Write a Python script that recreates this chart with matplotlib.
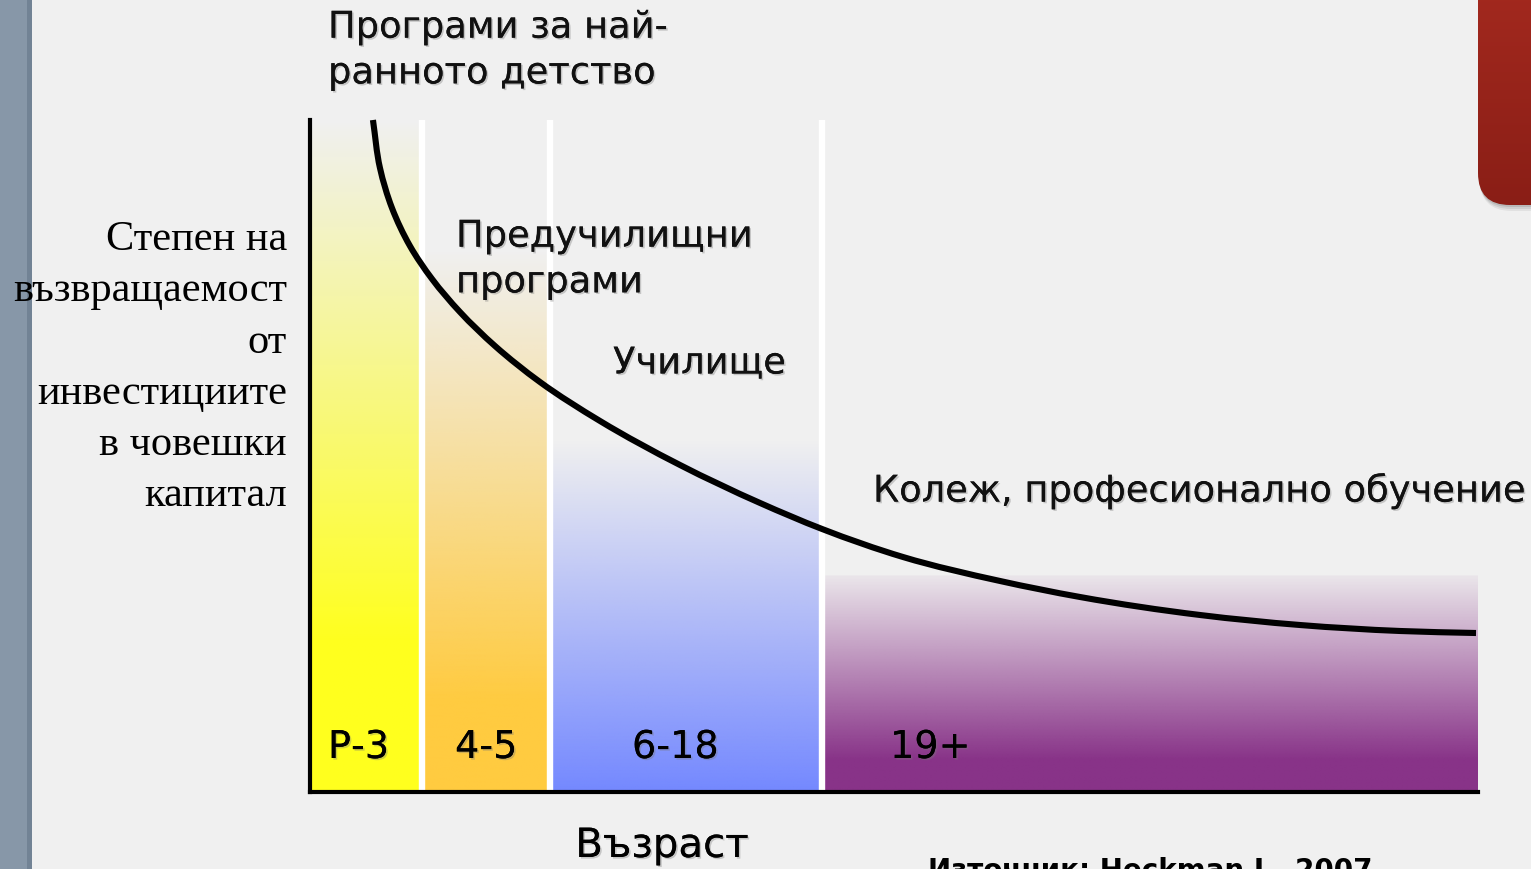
import numpy as np
import matplotlib
matplotlib.use("Agg")
import matplotlib.pyplot as plt
from matplotlib.path import Path
from matplotlib.patches import PathPatch, FancyBboxPatch, Rectangle
import matplotlib.patheffects as pe
from matplotlib.colors import to_rgb

# ---------------- data ----------------
band_labels = ["Р-3", "4-5", "6-18", "19+"]
band_edges = [0, 9.55, 20.55, 43.85, 100]          # x positions (0-100 scale)
band_colors = ["#ffff1e", "#ffcb40", "#7589ff", "#883388"]
band_fade_top = [100, 80.7, 52.4, 32.3]            # where the band colour starts
band_fade_full = [22.6, 13.7, 0.5, 4.8]            # where it becomes solid
band_edge_alpha = [0.0, 0.0, 0.0, 0.05]            # visible top edge (purple only)

curve_x = [5.39, 5.99, 7.02, 8.56, 10.45, 12.84, 15.84, 19.69, 24.83, 31.68,
           38.53, 43.84, 50.77, 59.08, 65.92, 76.20, 84.76, 93.32, 99.83]
curve_y = [100.0, 92.86, 86.90, 81.25, 76.34, 71.43, 66.37, 61.01, 55.21, 48.66,
           43.01, 39.14, 34.97, 31.40, 29.02, 26.34, 24.85, 23.96, 23.66]

stage_labels = ["Програми за най-\nранното детство", "Предучилищни\nпрограми",
                "Училище", "Колеж, професионално обучение"]
y_label = "Степен на\nвъзвращаемост\nот\nинвестициите\nв човешки\nкапитал"
x_label = "Възраст"
source = "Източник: Heckman J., 2007"

# ---------------- figure ----------------
W, H = 1531, 869
fig = plt.figure(figsize=(W / 100, H / 100), dpi=100)
fig.patch.set_facecolor("#f0f0f0")

def fx(px):
    return px / W

def fy(py):
    return 1 - py / H

# background decoration axes in pixel coordinates
bg = fig.add_axes([0, 0, 1, 1], zorder=0)
bg.set_xlim(0, W)
bg.set_ylim(H, 0)
bg.set_axis_off()
bg.add_patch(Rectangle((0, 0), 32, H, facecolor="#8797a8", edgecolor="none"))
bg.add_patch(Rectangle((27, 0), 5, H, facecolor="#728395", edgecolor="none"))

# red tab with rounded lower-left corner and soft shadow
for i, al in enumerate([0.06, 0.08, 0.10]):
    off = 6 - 2 * i
    bg.add_patch(FancyBboxPatch((1478 + off * 0.3, -60), 120, 265 + off,
                                boxstyle="round,pad=0,rounding_size=32",
                                facecolor="black", alpha=al, edgecolor="none"))
clip = FancyBboxPatch((1478, -60), 120, 265, boxstyle="round,pad=0,rounding_size=32",
                      facecolor="none", edgecolor="none")
bg.add_patch(clip)
g = np.linspace(0, 1, 256)[:, None, None]
c_top, c_bot = np.array(to_rgb("#a82b20")), np.array(to_rgb("#8a1e16"))
tab_img = np.repeat(c_top * (1 - g) + c_bot * g, 2, axis=1)
im = bg.imshow(tab_img, extent=[1478, 1600, 205, -60], aspect="auto", zorder=3)
im.set_clip_path(clip)
bg.set_xlim(0, W)
bg.set_ylim(H, 0)

# main axes
ax = fig.add_axes([fx(310), 1 - 792 / H, fx(1168), 672 / H], zorder=1)
ax.set_xlim(0, 100)
ax.set_ylim(0, 100)
ax.patch.set_alpha(0)
for s in ["top", "right"]:
    ax.spines[s].set_visible(False)
for s in ["left", "bottom"]:
    ax.spines[s].set_linewidth(3.0)
    ax.spines[s].set_color("black")
    ax.spines[s].set_capstyle("projecting")
    ax.spines[s].set_zorder(10)
ax.set_xticks([])
ax.set_yticks([])

# gradient bands
ny = 400
yy = np.linspace(0, 100, ny)
for x0, x1, col, ytop, yfull, a0 in zip(band_edges[:-1], band_edges[1:], band_colors,
                                        band_fade_top, band_fade_full, band_edge_alpha):
    a = np.clip((ytop - yy) / (ytop - yfull), 0, 1)
    a = np.where(yy <= ytop, a0 + (1 - a0) * a, 0)
    rgba = np.zeros((ny, 2, 4))
    rgba[..., :3] = to_rgb(col)
    rgba[..., 3] = a[:, None]
    ax.imshow(rgba, extent=[x0, x1, 0, 100], origin="lower", aspect="auto",
              interpolation="bilinear", zorder=1)

# white separators
for xe in band_edges[1:-1]:
    ax.axvline(xe, color="white", lw=4.6, zorder=2)

# smooth curve: chordal Catmull-Rom spline through the read points, as Bezier path
sx, sy = 11.68, 6.72                      # display scale of one unit in x / y
P = np.column_stack([np.array(curve_x) * sx, np.array(curve_y) * sy])
d = np.linalg.norm(np.diff(P, axis=0), axis=1)
n = len(P)
T = np.zeros_like(P)
for i in range(n):
    if i == 0:
        T[i] = (P[1] - P[0]) / d[0]
    elif i == n - 1:
        T[i] = (P[-1] - P[-2]) / d[-1]
    else:
        a1, a2 = d[i - 1], d[i]
        T[i] = ((P[i] - P[i - 1]) / a1 * a2 + (P[i + 1] - P[i]) / a2 * a1) / (a1 + a2)
verts = [P[0]]
codes = [Path.MOVETO]
for i in range(n - 1):
    verts += [P[i] + T[i] * d[i] / 3, P[i + 1] - T[i + 1] * d[i] / 3, P[i + 1]]
    codes += [Path.CURVE4] * 3
verts = np.array(verts) / np.array([sx, sy])
ax.add_patch(PathPatch(Path(verts, codes), facecolor="none", edgecolor="black",
                       lw=4.4, zorder=5, capstyle="butt", clip_on=False))

shadow_fx = [pe.withSimplePatchShadow(offset=(1.2, -1.2), shadow_rgbFace="#777777", alpha=0.35),
             pe.Normal()]

# band labels
label_px = [328, 455, 632, 890]
for lab, lx in zip(band_labels, label_px):
    fig.text(fx(lx), fy(748), lab, fontsize=27.5, family="DejaVu Sans", color="black",
             va="center", ha="left", zorder=20, path_effects=shadow_fx)

# stage labels
stage_pos = [(328, 50), (456, 259), (613, 363), (873, 491)]
for (px_, py_), lab in zip(stage_pos, stage_labels):
    fig.text(fx(px_), fy(py_), lab, fontsize=26.5, family="DejaVu Sans", color="#111111",
             va="center", ha="left", linespacing=1.3, zorder=20, path_effects=shadow_fx)

# y label (serif)
fig.text(fx(287), fy(368), y_label, fontsize=30.5, family="Liberation Serif", color="black",
         ha="right", va="center", linespacing=1.43, multialignment="right", zorder=20)

# x label
fig.text(fx(662), fy(846), x_label, fontsize=29, family="DejaVu Sans", color="black",
         ha="center", va="center", zorder=20, path_effects=shadow_fx)

# source (cut off by the bottom edge, as in the original slide)
fig.text(fx(928), fy(857), source, fontsize=20, family="DejaVu Sans", weight="bold",
         color="black", ha="left", va="top", zorder=20)

fig.savefig("out.png", dpi=100, facecolor=fig.get_facecolor())
